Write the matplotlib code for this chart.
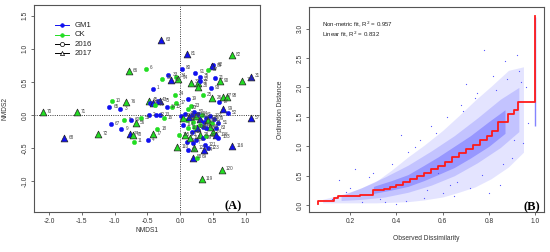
import matplotlib
matplotlib.use("Agg")
import matplotlib.pyplot as plt
import numpy as np

plt.rcParams["font.family"] = ["Liberation Sans", "DejaVu Sans"]

# ---- panel A: NMDS site scores ----
site_labels = [
    "70", "71", "68", "72", "63", "81", "82", "66", "6", "1",
    "10", "76", "65", "3", "67", "9", "5", "60", "56", "55",
    "74", "78", "11", "4", "77", "18", "2", "12", "13", "16",
    "14", "75", "45", "47", "46", "44", "43", "15", "17", "24",
    "19", "25", "26", "27", "97", "98", "99", "52", "100", "31",
    "57", "116", "120", "119", "110", "80", "92", "89", "87", "91",
    "35", "33", "36", "39", "34", "94", "37", "32", "38", "21",
    "90", "93", "22", "51", "64", "58", "69", "62",
    "40", "101", "41", "42", "102", "48", "49", "50", "53", "54",
    "59", "61", "104", "105", "106", "107", "73", "79", "83", "84",
    "85", "86", "88", "95", "96", "109", "111", "112", "113", "114",
    "115", "117", "118", "108", "103", "7", "8", "28", "29", "30",
    "20", "23", "121", "122", "123",
]
nmds1 = [
    -2.10, -1.58, -1.77, -1.25, -0.29, 0.10, 0.79, -0.78, -0.52, -0.42,
    -1.04, -0.82, -1.08, -0.91, -1.06, -0.90, -0.85, -0.75, -0.68, -0.60,
    -0.77, -0.72, -0.71, -0.49, -0.42, -0.35, -0.48, -0.37, -0.30, -0.25,
    -0.20, -0.30, -0.48, -0.46, -0.41, -0.38, -0.34, -0.13, -0.06, -0.08,
    0.12, 0.35, 0.49, 0.60, 0.65, 0.72, 0.66, 0.73, 0.95, 1.08,
    1.08, 0.80, 0.64, 0.33, -0.04, 0.03, 0.51, 0.49, 0.43, 0.23,
    0.30, -0.18, -0.14, -0.27, -0.06, -0.03, 0.16, 0.28, 0.28, 0.53,
    0.61, 0.47, 0.30, 0.585, 0.36, 0.19, 0.265, 0.12,
    0.02, 0.05, 0.08, 0.10, 0.14, 0.18, 0.20, 0.22, 0.25, 0.28,
    0.31, 0.34, 0.36, 0.40, 0.43, 0.46, 0.48, 0.52, 0.55, 0.50,
    0.45, 0.40, 0.35, 0.30, 0.26, 0.22, 0.18, 0.12, 0.08, 0.04,
    -0.02, 0.10, 0.15, 0.55, 0.58, 0.20, 0.25, 0.30, 0.35, 0.40,
    0.12, 0.16, 0.38, 0.22, 0.42,
]
nmds2 = [
    0.04, 0.04, -0.35, -0.29, 1.13, 0.92, 0.90, 0.66, 0.70, 0.40,
    0.21, 0.20, 0.12, 0.09, -0.14, -0.21, -0.07, -0.08, -0.12, -0.05,
    -0.28, -0.30, -0.40, -0.38, -0.29, -0.21, 0.00, -0.005, 0.00, -0.05,
    0.12, 0.21, 0.22, 0.18, 0.19, 0.15, 0.22, 0.12, 0.18, 0.31,
    0.24, 0.30, 0.26, 0.20, 0.28, 0.28, 0.09, 0.03, 0.52, 0.58,
    -0.05, -0.47, -0.82, -0.97, -0.48, 0.70, 0.76, 0.74, 0.68, 0.64,
    0.58, 0.60, 0.53, 0.55, 0.58, 0.55, 0.49, 0.49, 0.43, 0.56,
    0.51, 0.41, 0.52, -0.12, -0.53, -0.64, -0.64, -0.53,
    -0.02, -0.05, 0.02, -0.08, -0.03, 0.00, -0.10, 0.05, -0.02, 0.01,
    -0.06, 0.00, -0.10, -0.04, -0.08, -0.02, -0.12, -0.06, -0.20, -0.25,
    -0.18, -0.20, -0.18, -0.15, -0.20, -0.18, -0.25, -0.20, -0.30, -0.15,
    -0.30, -0.40, -0.35, -0.30, -0.34, -0.42, -0.38, -0.30, -0.35, -0.32,
    0.10, 0.14, -0.45, -0.50, -0.50,
]
treatment = list(
    "CCGCGGCCCG" "CCGGGGCGCC" "GCCGCCGGGC" "GGCGGCGCCC"
    "GCCGCCGGCG" "GGCCCGGGCG" "GGGCCCCCCG" "CGGGGGCG"
    "GCGCGGCGCG" "GCGGCGCGGC" "CGGCGCGCCG" "CGCGGGGCGC"
    "CCGCG"
)
year = [
    17, 17, 17, 17, 17, 17, 17, 17, 16, 16,
    16, 17, 16, 16, 16, 16, 16, 16, 17, 16,
    17, 17, 16, 16, 17, 16, 16, 16, 16, 16,
    16, 17, 17, 16, 17, 16, 16, 16, 16, 16,
    16, 16, 17, 16, 17, 17, 17, 16, 17, 17,
    17, 17, 17, 17, 17, 16, 16, 17, 16, 16,
    16, 16, 17, 16, 16, 17, 17, 17, 17, 16,
    17, 16, 16, 16, 17, 17, 16, 16,
    16, 17, 16, 16, 17, 16, 16, 16, 17, 16,
    17, 16, 16, 16, 17, 16, 16, 16, 16, 17,
    17, 16, 16, 16, 17, 16, 16, 16, 17, 16,
    16, 16, 17, 17, 16, 16, 16, 17, 16, 16,
    16, 16, 16, 17, 16,
]

# ---- panel B: Shepard diagram ----
step_x = [0.06, 0.06, 0.13, 0.145, 0.19, 0.24, 0.30, 0.345, 0.37, 0.40,
          0.43, 0.46, 0.49, 0.52, 0.55, 0.58, 0.61, 0.64, 0.67, 0.70,
          0.73, 0.76, 0.79, 0.815, 0.84, 0.885, 0.91, 0.925, 1.0, 1.0]
step_y = [0.02, 0.07, 0.12, 0.15, 0.16, 0.18, 0.25, 0.28, 0.31, 0.35,
          0.39, 0.44, 0.49, 0.55, 0.61, 0.67, 0.74, 0.82, 0.89, 0.95,
          1.03, 1.10, 1.18, 1.26, 1.42, 1.55, 1.62, 1.75, 1.75, 3.22]
# point cloud envelopes (sparse, medium, dense)
outer_x = [0.08, 0.16, 0.24, 0.31, 0.38, 0.45, 0.52, 0.60, 0.67, 0.74, 0.81, 0.885, 0.95]
outer_lo = [0.04, 0.04, 0.04, 0.04, 0.05, 0.06, 0.09, 0.14, 0.22, 0.31, 0.45, 0.65, 0.90]
outer_hi = [0.10, 0.18, 0.28, 0.40, 0.60, 0.82, 1.02, 1.27, 1.52, 1.78, 2.02, 2.29, 2.35]
mid_x = [0.16, 0.25, 0.35, 0.45, 0.55, 0.65, 0.75, 0.85, 0.93]
mid_lo = [0.08, 0.10, 0.14, 0.22, 0.34, 0.50, 0.72, 0.98, 1.25]
mid_hi = [0.16, 0.30, 0.48, 0.68, 0.92, 1.18, 1.48, 1.80, 2.00]
core_x = [0.30, 0.38, 0.45, 0.52, 0.58, 0.65, 0.72, 0.80, 0.87]
core_lo = [0.20, 0.26, 0.32, 0.42, 0.52, 0.64, 0.80, 1.00, 1.22]
core_hi = [0.32, 0.42, 0.52, 0.68, 0.82, 1.00, 1.18, 1.42, 1.62]
stray_x = [0.15, 0.20, 0.25, 0.30, 0.42, 0.45, 0.50, 0.55, 0.60, 0.62,
           0.65, 0.68, 0.70, 0.72, 0.75, 0.78, 0.80, 0.82, 0.85, 0.87,
           0.90, 0.92, 0.94, 0.96, 0.97, 0.35, 0.40, 0.22, 0.52, 0.58,
           0.12, 0.18, 0.28, 0.33, 0.38, 0.48, 0.57, 0.63, 0.69, 0.77,
           0.83, 0.88, 0.91, 0.93, 0.44, 0.53, 0.66, 0.74, 0.86, 0.95]
stray_y = [0.42, 0.30, 0.05, 0.55, 1.20, 0.90, 1.10, 1.35, 0.20, 1.50,
           0.15, 1.70, 2.05, 0.30, 1.90, 2.63, 0.20, 2.20, 0.35, 2.45,
           0.80, 2.55, 2.10, 2.00, 1.40, 0.05, 0.02, 0.62, 0.12, 0.55,
           0.10, 0.22, 0.48, 0.10, 0.70, 0.98, 1.22, 0.35, 1.60, 0.52,
           1.95, 2.15, 1.10, 2.28, 0.08, 0.25, 0.40, 1.82, 0.70, 1.05]
column_x = 1.0
column_lo, column_hi = 1.35, 3.20
fit_text = ["Non-metric fit, R$^2$ = 0.957", "Linear fit, R$^2$ = 0.832"]

BLUE = "#1010f0"
GREEN = "#22dd22"
FRAME = "#555555"
TICKC = "#333333"

fig = plt.figure(figsize=(5.5, 2.52), dpi=100)
axA = fig.add_axes([34 / 550, 1 - 212 / 252, 226 / 550, 207 / 252])
axB = fig.add_axes([309.3 / 550, 1 - 212 / 252, 234.4 / 550, 204.7 / 252])

for ax in (axA, axB):
    for s in ax.spines.values():
        s.set_color(FRAME)
        s.set_linewidth(0.8)
    ax.tick_params(length=2.5, width=0.6, color=FRAME, labelsize=4.8,
                   labelcolor=TICKC, pad=1.5)

# panel A
axA.axhline(0, color="#222222", lw=0.6, ls=(0, (1.2, 1.5)))
axA.axvline(0, color="#222222", lw=0.6, ls=(0, (1.2, 1.5)))
for lab, x, y, t, yr in zip(site_labels, nmds1, nmds2, treatment, year):
    col = BLUE if t == "G" else GREEN
    if yr == 16:
        axA.scatter(x, y, s=10, color=col, edgecolors=col, linewidths=0.3, zorder=3)
    else:
        axA.scatter(x, y, s=24, marker="^", color=col, edgecolors="#222222",
                    linewidths=0.5, zorder=3)
    axA.annotate(lab, (x, y), xytext=(3, 0.5), textcoords="offset points",
                 fontsize=3.3, color="#444444", va="center", zorder=4)
axA.set_xlim(-2.23, 1.22)
axA.set_ylim(-1.46, 1.66)
axA.set_xticks([-2.0, -1.5, -1.0, -0.5, 0.0, 0.5, 1.0])
axA.set_yticks([-1.0, -0.5, 0.0, 0.5, 1.0, 1.5])
axA.set_xticklabels(["-2.0", "-1.5", "-1.0", "-0.5", "0.0", "0.5", "1.0"])
axA.set_yticklabels(["-1.0", "-0.5", "0.0", "0.5", "1.0", "1.5"],
                    rotation=90, va="center")
axA.text(0.81, -1.37, "(A)", fontsize=9, fontweight="bold",
         family="Liberation Serif", ha="center", va="center")

# legend drawn by hand
leg_rows = [("GM1", BLUE, "o", True), ("CK", GREEN, "o", True),
            ("2016", "black", "o", False), ("2017", "black", "^", False)]
for i, (txt, col, mk, filled) in enumerate(leg_rows):
    yy = [0.902, 0.857, 0.810, 0.767][i]
    axA.plot([0.093, 0.156], [yy, yy], color=col, lw=0.7,
             transform=axA.transAxes, clip_on=False)
    axA.plot([0.125], [yy], marker=mk, ms=2.6 if filled else 3.0,
             color=col, mfc=col if filled else "white", mew=0.5,
             transform=axA.transAxes, clip_on=False)
    axA.text(0.181, yy, txt, fontsize=5.6, color="#222222", va="center",
             transform=axA.transAxes)

# panel B
axB.fill_between(outer_x, outer_lo, outer_hi, color="#9a9aff", alpha=0.26, lw=0)
axB.fill_between(mid_x, mid_lo, mid_hi, color="#6f6fff", alpha=0.28, lw=0)
axB.fill_between(core_x, core_lo, core_hi, color="#3a3aff", alpha=0.32, lw=0)
axB.scatter(stray_x, stray_y, s=0.8, color="#5555ff", lw=0)
axB.vlines(column_x, column_lo, column_hi, color="#5050ff", lw=1.0, alpha=0.7)
axB.plot(step_x, step_y, color="#ff1a1a", lw=1.3, drawstyle="steps-post", zorder=5)
axB.set_xlim(0.0224, 1.0376)
axB.set_ylim(-0.115, 3.36)
axB.set_xticks([0.2, 0.4, 0.6, 0.8, 1.0])
axB.set_yticks([0.0, 0.5, 1.0, 1.5, 2.0, 2.5, 3.0])
axB.set_yticklabels(["0.0", "0.5", "1.0", "1.5", "2.0", "2.5", "3.0"],
                    rotation=90, va="center")
axB.text(0.076, 3.07, fit_text[0], fontsize=4.4, color="#222222", va="center")
axB.text(0.076, 2.90, fit_text[1], fontsize=4.4, color="#222222", va="center")
axB.text(0.985, -0.03, "(B)", fontsize=9, fontweight="bold",
         family="Liberation Serif", ha="center", va="center")

fig.text(147 / 550, 1 - 231 / 252, "NMDS1", fontsize=4.8, color=TICKC,
         ha="center", va="center")
fig.text(5 / 550, 1 - 108 / 252, "NMDS2", fontsize=4.8, color=TICKC,
         ha="center", va="center", rotation=90)
fig.text(426.5 / 550, 1 - 239 / 252, "Observed Dissimilarity", fontsize=4.8,
         color=TICKC, ha="center", va="center")
fig.text(281 / 550, 1 - 110 / 252, "Ordination Distance", fontsize=4.8,
         color=TICKC, ha="center", va="center", rotation=90)

fig.savefig("out.png", dpi=100)
